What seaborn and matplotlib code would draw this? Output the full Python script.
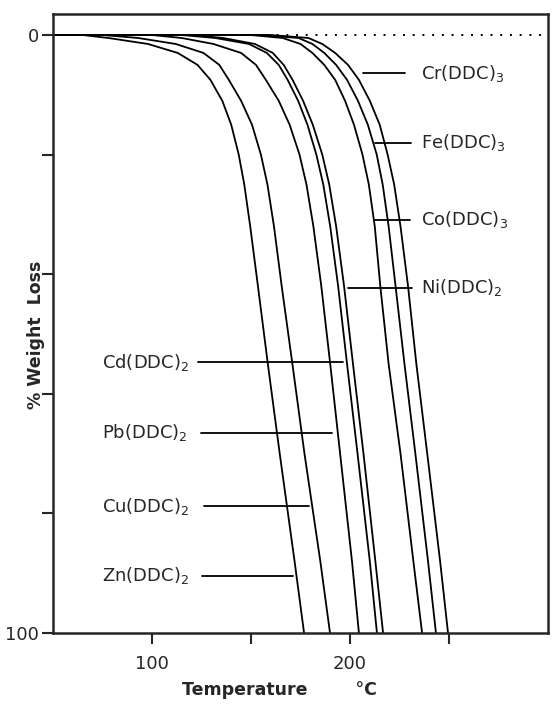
import matplotlib
matplotlib.use("Agg")
import matplotlib.pyplot as plt
import seaborn as sns
import pandas as pd

# -------------------------------
# data
# each curve: temperature (C) at the shared % weight-loss levels below
# -------------------------------
loss_levels = [0, 0, 0.5, 1.5, 3, 5, 7.5, 11, 15, 20, 25, 32, 42, 55, 70, 88, 100]

zn_t = [50, 65, 78, 98, 113, 123, 129.5, 135.5, 140, 143.8, 146.6, 149.6, 153.5, 158.5, 164.5, 172, 176.8]
cu_t = [50, 75, 93, 112, 126, 134, 138.8, 145, 150.5, 155, 158.3, 161.6, 165.5, 170.9, 177, 185, 189.9]
pb_t = [50, 100, 115, 131, 145, 152.5, 157.5, 164, 169.5, 174.5, 178, 181.5, 185.5, 190, 195, 201, 204.5]
cd_t = [50, 115, 132, 149, 158, 164, 168.5, 173.8, 178.5, 183, 186.5, 190, 194, 198.5, 203.8, 210, 213.6]
ni_t = [50, 120, 136, 152, 161, 166.5, 171, 176.3, 181.2, 186, 189.5, 193, 197, 201.5, 206.8, 212.8, 216.7]
co_t = [50, 150, 166, 175, 181, 187, 192.5, 197.5, 202, 206.3, 209.5, 212.5, 215.3, 219.5, 225.5, 232, 236.4]
fe_t = [50, 155, 174, 181, 187, 193, 198.5, 204, 209, 213.5, 216.5, 219.5, 223, 227.5, 233, 239.4, 243.4]
cr_t = [50, 160, 179, 186, 192.5, 199, 204.5, 210, 215, 219, 222.3, 225.5, 229.3, 233.5, 239, 245.5, 249.5]

names = ["Zn", "Cu", "Pb", "Cd", "Ni", "Co", "Fe", "Cr"]
labels = ["Zn(DDC)$_2$", "Cu(DDC)$_2$", "Pb(DDC)$_2$", "Cd(DDC)$_2$",
          "Ni(DDC)$_2$", "Co(DDC)$_3$", "Fe(DDC)$_3$", "Cr(DDC)$_3$"]
temps = [zn_t, cu_t, pb_t, cd_t, ni_t, co_t, fe_t, cr_t]

x_ticks = [100, 150, 200, 250]
x_ticklabels = ["100", "", "200", ""]
y_ticks = [0, 20, 40, 60, 80, 100]
y_ticklabels = ["0", "", "", "", "", "100"]

# label placement: (leader start T, leader end T, loss level, text T)
label_pos = {
    "Zn": (125.3, 171.2, 90.4, 75),
    "Cu": (126.3, 179.3, 78.8, 75),
    "Pb": (124.7, 190.9, 66.5, 75),
    "Cd": (123.2, 196.5, 54.7, 75),
    "Ni": (199.0, 231.3, 42.3, 236),
    "Co": (212.6, 230.3, 30.9, 236),
    "Fe": (212.6, 230.8, 18.0, 236),
    "Cr": (206.6, 227.8, 6.4, 236),
}

rows = []
for n, ts in zip(names, temps):
    for t, w in zip(ts, loss_levels):
        rows.append({"compound": n, "temp": t, "loss": w})
df = pd.DataFrame(rows)

sns.set_style("ticks")
plt.rcParams["font.family"] = ["DejaVu Sans"]

fig = plt.figure(figsize=(5.52, 7.18), dpi=100)
ax = fig.add_axes([0.096, 0.1184, 0.8968, 0.862])

ax.axhline(0, color="black", lw=1.4, ls=(0, (1, 4)), zorder=1)
sns.lineplot(data=df, x="temp", y="loss", hue="compound",
             palette={n: "black" for n in names}, sort=False, estimator=None,
             legend=False, lw=1.3, ax=ax)

for n, lab in zip(names, labels):
    t0, t1, w, tx = label_pos[n]
    ax.plot([t0, t1], [w, w], color="black", lw=1.3)
    ax.text(tx, w, lab, fontsize=13, va="center", ha="left")

ax.set_xlim(50, 300)
ax.set_ylim(100, -3.5)
ax.set_xticks(x_ticks)
ax.set_xticklabels(x_ticklabels)
ax.set_yticks(y_ticks)
ax.set_yticklabels(y_ticklabels)
ax.tick_params(axis="x", direction="out", length=8, width=1.5, labelsize=13, pad=8)
ax.tick_params(axis="y", direction="out", length=8, width=1.5, labelsize=13, pad=2)
for s in ax.spines.values():
    s.set_linewidth(1.8)
ax.set_xlabel("")
ax.set_ylabel("")

fig.text(279 / 552, 1 - 690 / 718, "Temperature        °C", ha="center",
         va="center", fontsize=12.5, fontweight="bold")
fig.text(36 / 552, 1 - 335 / 718, "% Weight  Loss", ha="center", va="center",
         rotation=90, fontsize=12.5, fontweight="bold")

fig.savefig("out.png", dpi=100)
